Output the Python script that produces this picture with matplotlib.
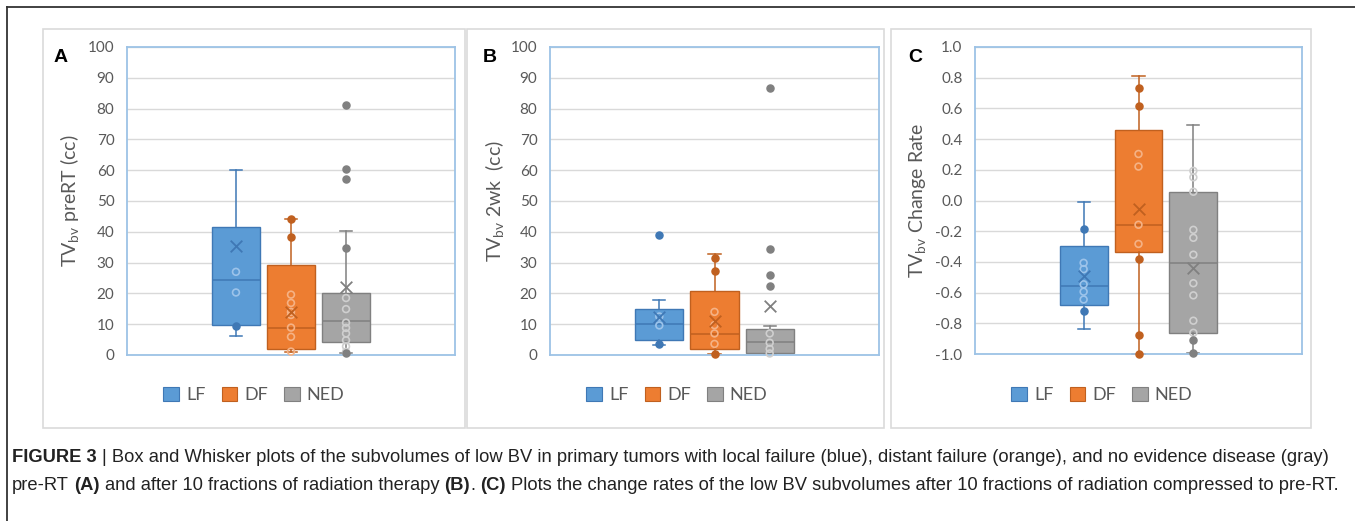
import matplotlib
matplotlib.use("Agg")
import matplotlib.pyplot as plt
from matplotlib.patches import Patch, Rectangle
from matplotlib.lines import Line2D
from matplotlib.ticker import FixedLocator, FuncFormatter

plt.rcParams['font.family'] = ['Lato', 'DejaVu Sans']
plt.rcParams['mathtext.fontset'] = 'custom'
plt.rcParams['mathtext.rm'] = 'Lato'

# ---------------- data ----------------
groups = ["LF", "DF", "NED"]

A_q1 = [9.9, 2.0, 4.1]
A_med = [24.5, 8.9, 10.9]
A_q3 = [41.7, 29.1, 20.2]
A_wlo = [6.3, 1.1, 0.5]
A_whi = [60.0, 44.0, 40.1]
A_mean = [35.3, 14.0, 22.1]
A_inner = [[27.0, 20.3], [19.6, 16.9, 14.0, 13.0, 8.9, 5.9, 1.1],
           [18.5, 14.9, 10.5, 8.8, 7.0, 4.8, 2.8, 1.0]]
A_outer = [[9.4], [44.0, 38.2], [81.2, 60.3, 57.2, 34.6, 0.5]]

B_q1 = [5.0, 1.9, 0.8]
B_med = [10.2, 6.9, 4.1]
B_q3 = [15.0, 20.7, 8.5]
B_wlo = [3.4, 0.2, 0.3]
B_whi = [18.0, 32.8, 9.5]
B_mean = [12.3, 11.2, 15.8]
B_inner = [[12.5, 9.6], [14.0, 9.7, 7.0, 3.6], [7.0, 4.0, 2.0, 0.5]]
B_outer = [[38.8, 3.5], [31.4, 27.2, 0.3], [86.6, 34.3, 25.9, 22.5]]

C_q1 = [-0.684, -0.333, -0.862]
C_med = [-0.555, -0.158, -0.406]
C_q3 = [-0.296, 0.458, 0.057]
C_wlo = [-0.836, -1.0, -0.996]
C_whi = [-0.007, 0.811, 0.489]
C_mean = [-0.491, -0.057, -0.441]
C_inner = [[-0.406, -0.447, -0.546, -0.594, -0.645],
           [0.303, 0.221, -0.158, -0.283],
           [0.193, 0.151, 0.057, -0.191, -0.243, -0.353, -0.539, -0.618, -0.783, -0.862]]
C_outer = [[-0.184, -0.717], [0.732, 0.614, -0.382, -0.877, -1.0], [-0.912, -0.996]]

A_ticks = [0, 10, 20, 30, 40, 50, 60, 70, 80, 90, 100]
B_ticks = [0, 10, 20, 30, 40, 50, 60, 70, 80, 90, 100]
C_ticks = [-1.0, -0.8, -0.6, -0.4, -0.2, 0.0, 0.2, 0.4, 0.6, 0.8, 1.0]

# ---------------- style ----------------
fill = ["#5B9BD5", "#ED7D31", "#A5A5A5"]
edge = ["#3F78B5", "#C0601F", "#808080"]
ring = ["#9CC3EA", "#F5B285", "#CFCFCF"]
tick_col = "#595959"

W, H = 1355, 521
fig = plt.figure(figsize=(W / 100, H / 100), dpi=100)
fig.patch.set_facecolor("white")


def fx(x):
    return x / W


def fy(y):
    return 1 - y / H


def rect(x0, y0, x1, y1):
    return [fx(x0), fy(y1), (x1 - x0) / W, (y1 - y0) / H]


# outer figure border (top and left)
fig.add_artist(Line2D([fx(7), 1], [fy(7), fy(7)], color="#333333", lw=1.3, transform=fig.transFigure))
fig.add_artist(Line2D([fx(7), fx(7)], [fy(7), 0], color="#333333", lw=1.3, transform=fig.transFigure))

# panel frames
panels = [(43, 29, 465, 428), (467, 29, 884, 428), (891, 29, 1311, 428)]
for (x0, y0, x1, y1) in panels:
    fig.add_artist(Rectangle((fx(x0), fy(y1)), (x1 - x0) / W, (y1 - y0) / H,
                             transform=fig.transFigure, fill=False,
                             edgecolor="#DADADA", lw=1.2))

plot_rects = [(127, 47, 455, 355), (550, 47, 879, 355), (975, 47, 1302, 354)]
datasets = [
    (A_q1, A_med, A_q3, A_wlo, A_whi, A_mean, A_inner, A_outer, A_ticks, (0, 100),
     r"TV$_\mathregular{bv}$ preRT (cc)", "A"),
    (B_q1, B_med, B_q3, B_wlo, B_whi, B_mean, B_inner, B_outer, B_ticks, (0, 100),
     r"TV$_\mathregular{bv}$ 2wk  (cc)", "B"),
    (C_q1, C_med, C_q3, C_wlo, C_whi, C_mean, C_inner, C_outer, C_ticks, (-1.0, 1.0),
     r"TV$_\mathregular{bv}$ Change Rate", "C"),
]
letter_pos = [(61, 57), (490, 57), (915, 57)]
ylabel_x = [70, 495, 918]

positions = [-1.0, 0.0, 1.0]
for k, (pr, ds) in enumerate(zip(plot_rects, datasets)):
    q1, med, q3, wlo, whi, mean, inner, outer, ticks, ylim, ylab, letter = ds
    ax = fig.add_axes(rect(*pr))

    for i in range(3):
        st = [dict(med=med[i], q1=q1[i], q3=q3[i], whislo=wlo[i], whishi=whi[i], fliers=[])]
        art = ax.bxp(st, positions=[positions[i]], widths=0.87, patch_artist=True,
                     showfliers=False, capwidths=0.22, manage_ticks=False,
                     boxprops=dict(facecolor=fill[i], edgecolor=edge[i], lw=1.0),
                     medianprops=dict(color=edge[i], lw=1.1),
                     whiskerprops=dict(color=edge[i], lw=1.1),
                     capprops=dict(color=edge[i], lw=1.1))
        for a in art["whiskers"] + art["caps"]:
            a.set_clip_on(False)
        ax.scatter([positions[i]] * len(inner[i]), inner[i], s=24, facecolors="none",
                   edgecolors=ring[i], linewidths=1.2, zorder=4, clip_on=False)
        ax.scatter([positions[i]] * len(outer[i]), outer[i], s=26, color=edge[i],
                   zorder=4, clip_on=False)
        ax.scatter([positions[i]], [mean[i]], marker="x", s=70, color=edge[i],
                   linewidths=1.3, zorder=5)

    ax.set_xlim(-2.98, 2.98)
    ax.set_ylim(*ylim)
    ax.yaxis.set_major_locator(FixedLocator(ticks))
    if k == 2:
        ax.yaxis.set_major_formatter(FuncFormatter(lambda v, p: f"{v:.1f}"))
    else:
        ax.yaxis.set_major_formatter(FuncFormatter(lambda v, p: f"{v:.0f}"))
    ax.set_xticks([])
    ax.tick_params(axis="y", length=0, pad=9, labelsize=11, labelcolor=tick_col)
    ax.grid(axis="y", color="#D9D9D9", lw=1.0, zorder=0)
    ax.set_axisbelow(True)
    for s in ax.spines.values():
        s.set_color("#9DC3E6")
        s.set_linewidth(1.3)

    fig.text(fx(ylabel_x[k]), fy((pr[1] + pr[3]) / 2), ylab, rotation=90,
             ha="center", va="center", fontsize=14, color=tick_col)
    fig.text(fx(letter_pos[k][0]), fy(letter_pos[k][1]), letter, ha="center", va="center",
             fontsize=14, fontweight="bold", family=["Liberation Sans", "DejaVu Sans"],
             color="black")

# legends
handles = [Patch(facecolor=fill[i], edgecolor=edge[i], lw=0.8, label=groups[i]) for i in range(3)]
for cx in [254, 677, 1102]:
    lg = fig.legend(handles=handles, loc="center", bbox_to_anchor=(fx(cx), fy(395)),
                    bbox_transform=fig.transFigure, ncol=3, frameon=False,
                    fontsize=13, handlelength=0.85, handleheight=0.85,
                    handletextpad=0.4, columnspacing=0.9, borderaxespad=0)
    for t in lg.get_texts():
        t.set_color(tick_col)

# caption
cap_family = ["Liberation Sans", "DejaVu Sans"]
line1 = [("FIGURE 3 ", True), ("| Box and Whisker plots of the subvolumes of low BV in primary tumors with "
         "local failure (blue), distant failure (orange), and no evidence disease (gray)", False)]
line2 = [("pre-RT ", False), ("(A)", True), (" and after 10 fractions of radiation therapy ", False),
         ("(B)", True), (". ", False), ("(C)", True),
         (" Plots the change rates of the low BV subvolumes after 10 fractions of radiation compressed to pre-RT.", False)]

renderer = fig.canvas.get_renderer()


def seg_width(txt, bold, size):
    t = fig.text(0, 0, "x", fontsize=size, family=cap_family,
                 fontweight="bold" if bold else "normal")
    core = txt.strip()
    w = 0.0
    if core:
        t.set_text(core)
        w = t.get_window_extent(renderer).width
    t.set_text("a a")
    w2 = t.get_window_extent(renderer).width
    t.set_text("aa")
    w3 = t.get_window_extent(renderer).width
    sp = w2 - w3
    t.remove()
    nlead = len(txt) - len(txt.lstrip(" "))
    ntrail = len(txt) - len(txt.rstrip(" "))
    return w, sp, nlead, ntrail


def line_width(segs, size):
    tot = 0
    for txt, b in segs:
        w, sp, nl, nt = seg_width(txt, b, size)
        tot += w + sp * (nl + nt)
    return tot


base = 10.0
scale = 1328 / line_width(line2, base)
cap_size = base * scale


def draw_line(segs, y):
    x = 12
    for txt, b in segs:
        w, sp, nl, nt = seg_width(txt, b, cap_size)
        x += sp * nl
        fig.text(fx(x), fy(y), txt.strip(), fontsize=cap_size, family=cap_family,
                 fontweight="bold" if b else "normal", ha="left", va="center", color="#222222")
        x += w + sp * nt


draw_line(line1, 458)
draw_line(line2, 486)

fig.savefig("out.png", dpi=100, facecolor="white")
